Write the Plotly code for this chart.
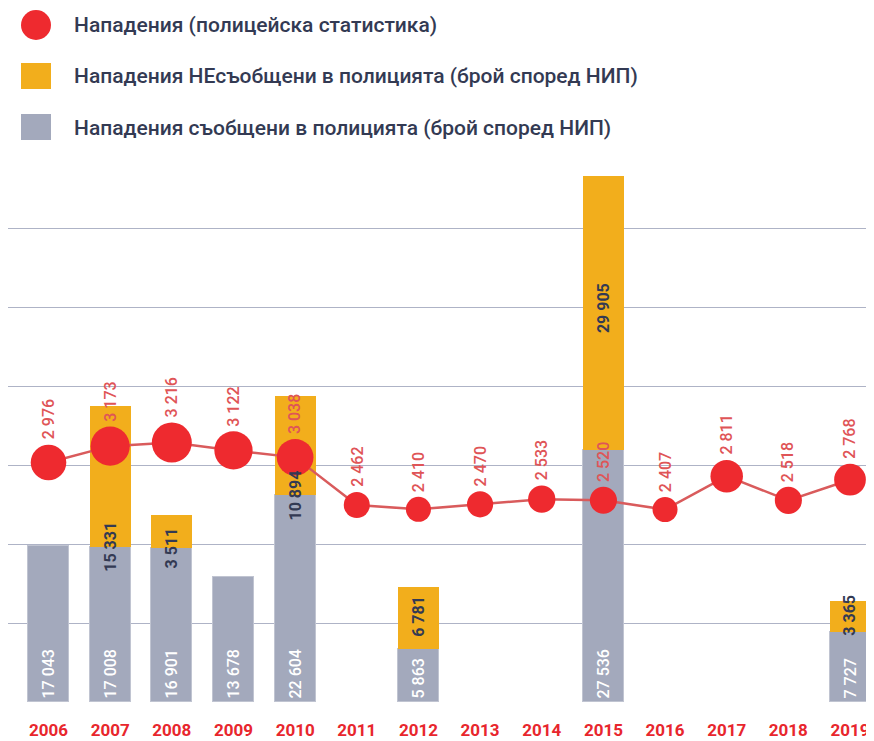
import plotly.graph_objects as go

years = [2006, 2007, 2008, 2009, 2010, 2011, 2012, 2013, 2014, 2015, 2016, 2017, 2018, 2019]
reported = [17043, 17008, 16901, 13678, 22604, None, 5863, None, None, 27536, None, None, None, 7727]
unreported = [None, 15331, 3511, None, 10894, None, 6781, None, None, 29905, None, None, None, 3365]
police = [2976, 3173, 3216, 3122, 3038, 2462, 2410, 2470, 2533, 2520, 2407, 2811, 2518, 2768]

legend_labels = [
    "Нападения (полицейска статистика)",
    "Нападения НЕсъобщени в полицията (брой според НИП)",
    "Нападения съобщени в полицията (брой според НИП)",
]

FONT = "Roboto, sans-serif"
GREY = "#a3a9bc"
ORANGE = "#f2ae1c"
RED = "#ee2a2f"
LINE_RED = "#d95b5c"
LABEL_RED = "#df5557"
NAVY = "#333a53"


def fmt(v):
    return "" if v is None else f"{v:,}".replace(",", " ")


def msize(v):
    return 25 + (v - 2407) * 15 / 809


fig = go.Figure()

fig.add_trace(go.Bar(
    x=years, y=reported, width=0.665,
    marker=dict(color=GREY, line=dict(color="#c0c4d1", width=1)),
    text=[fmt(v) for v in reported], textposition="inside", insidetextanchor="start",
    textangle=-90, constraintext="none",
    textfont=dict(family=FONT, size=16, color="white", weight=500),
    showlegend=False, hoverinfo="skip",
))

fig.add_trace(go.Bar(
    x=years, y=unreported, width=0.665,
    marker=dict(color=ORANGE, line=dict(width=0)),
    showlegend=False, hoverinfo="skip",
))

fig.add_trace(go.Scatter(
    x=years, y=police, yaxis="y2", mode="lines+markers",
    line=dict(color=LINE_RED, width=2.5),
    marker=dict(color=RED, opacity=1, size=[msize(v) for v in police], line=dict(width=0)),
    showlegend=False, hoverinfo="skip",
))

annotations = []
for yr, v in zip(years, police):
    annotations.append(dict(
        x=yr, y=v, xref="x", yref="y2", text=fmt(v), textangle=-90,
        showarrow=False, yanchor="bottom", xanchor="center", yshift=msize(v) / 2 + 3,
        font=dict(family=FONT, size=16, color=LABEL_RED, weight=500),
    ))

# orange segment labels: on the segment boundary over tall grey bars, otherwise mid-segment
for yr, g, o in zip(years, reported, unreported):
    if o is None:
        continue
    yv = g if (g >= 10000 and o < 20000) else g + o * 0.52
    annotations.append(dict(
        x=yr, y=yv, xref="x", yref="y", text=fmt(o), textangle=-90,
        showarrow=False, font=dict(family=FONT, size=16, color=NAVY, weight="bold"),
    ))

# page offset of the plot div (body margin)
OFF = 8
FIG_W, FIG_H = 874 - OFF, 741 - OFF
L, T, W, H = 0, 150 - OFF, FIG_W, 553


def px(x):
    return (x - OFF - L) / W


def py(y):
    return (T + H - (y - OFF)) / H


shapes = [
    dict(type="circle", xref="paper", yref="paper", x0=px(21), x1=px(51), y0=py(40), y1=py(10),
         fillcolor=RED, line=dict(width=0)),
    dict(type="rect", xref="paper", yref="paper", x0=px(21), x1=px(51), y0=py(89), y1=py(63),
         fillcolor=ORANGE, line=dict(width=0)),
    dict(type="rect", xref="paper", yref="paper", x0=px(21), x1=px(51), y0=py(140), y1=py(114),
         fillcolor=GREY, line=dict(width=0)),
]
for label, yc in zip(legend_labels, [25, 76, 128]):
    annotations.append(dict(
        x=px(72), y=py(yc), xref="paper", yref="paper", text=label, showarrow=False,
        xanchor="left", yanchor="middle", font=dict(family=FONT, size=21, color=NAVY, weight=500),
    ))

grid_step = 8630
fig.update_layout(
    width=FIG_W, height=FIG_H,
    margin=dict(l=L, r=0, t=T, b=FIG_H - T - H, pad=0),
    paper_bgcolor="white", plot_bgcolor="white",
    barmode="stack", bargap=0,
    xaxis=dict(
        range=[2005.343, 2019.389], tickvals=years, ticktext=[str(y) for y in years],
        tickfont=dict(family=FONT, size=17, color="#e8262d", weight="bold"),
        showgrid=False, zeroline=False, showline=False,
        ticks="outside", ticklen=12, tickcolor="rgba(0,0,0,0)",
    ),
    yaxis=dict(
        range=[-60, 60300], tickvals=[grid_step * i for i in range(7)],
        showticklabels=False, showgrid=True, gridcolor="#aeb3c6", gridwidth=1,
        zeroline=False, showline=False,
    ),
    yaxis2=dict(range=[71, 6750], overlaying="y", visible=False),
    shapes=shapes,
    annotations=annotations,
)

fig.write_html("out.html")
